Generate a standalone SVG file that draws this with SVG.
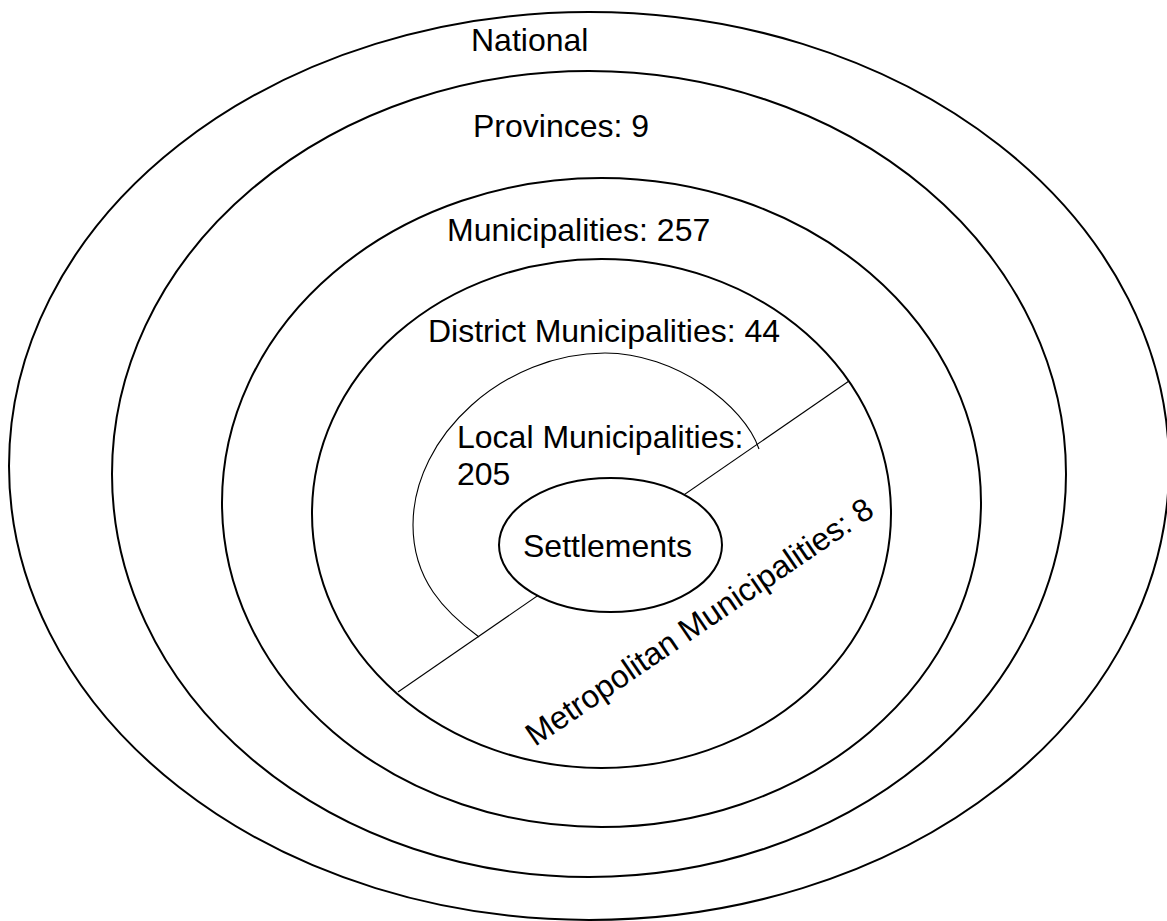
<svg xmlns="http://www.w3.org/2000/svg" width="1167" height="921" viewBox="0 0 1167 921">
  <style>
    .ring { fill: #ffffff; stroke: #000000; stroke-width: 2; }
    .div { fill: none; stroke: #000000; stroke-width: 1.1; }
    .lbl { font-family: "Liberation Sans", Arial, Helvetica, sans-serif; font-size: 32px; fill: #000000; }
  </style>
  <rect x="0" y="0" width="1167" height="921" fill="#ffffff"/>

  <g id="national">
    <ellipse class="ring" cx="589" cy="466" rx="580" ry="454"/>
    <text class="lbl" x="471" y="51">National</text>
  </g>

  <g id="provinces">
    <ellipse class="ring" cx="589" cy="474" rx="477" ry="403"/>
    <text class="lbl" x="473" y="137">Provinces: 9</text>
  </g>

  <g id="municipalities">
    <ellipse class="ring" cx="601.5" cy="502.5" rx="379.5" ry="324.5"/>
    <text class="lbl" x="447" y="241">Municipalities: 257</text>
  </g>

  <g id="district-municipalities">
    <ellipse class="ring" cx="601.5" cy="513.5" rx="289.5" ry="254.5"/>
    <text class="lbl" x="428" y="342">District Municipalities: 44</text>
  </g>

  <g id="connectors">
    <line class="div" x1="398" y1="692" x2="849" y2="381"/>
    <path class="div" d="M 759 449 C 744 405, 675 353, 605 353 C 505 353, 413 435, 413 525 C 413 580, 445 612, 479 637"/>
  </g>

  <g id="local-municipalities">
    <text class="lbl" x="457" y="448">Local Municipalities:</text>
    <text class="lbl" x="457" y="485">205</text>
  </g>

  <g id="metropolitan-municipalities">
    <text class="lbl" transform="translate(535 747) rotate(-34.3)" x="0" y="0">Metropolitan Municipalities: 8</text>
  </g>

  <g id="settlements">
    <ellipse class="ring" cx="610.5" cy="545" rx="111.5" ry="67"/>
    <text class="lbl" x="607.5" y="557" text-anchor="middle">Settlements</text>
  </g>
</svg>
